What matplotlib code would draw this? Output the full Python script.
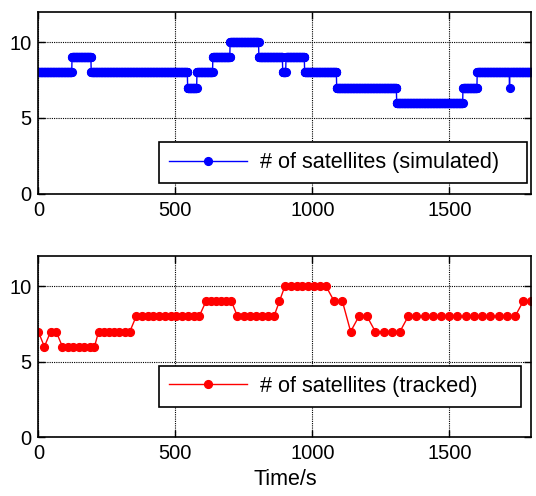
import numpy as np
import matplotlib
matplotlib.use("Agg")
import matplotlib.pyplot as plt

plt.rcParams['font.family'] = ['Liberation Sans', 'DejaVu Sans']

# simulated satellite count: level changes (time in s, new level)
sim_change_t = [0, 123, 193, 545, 579, 637, 700, 805, 892, 904, 972, 1089, 1308, 1550, 1602, 1720, 1721]
sim_level = [8, 9, 8, 7, 8, 9, 10, 9, 8, 9, 8, 7, 6, 7, 8, 7, 8]
sim_end = 1800

# tracked satellite count (sampled)
trk_t = [0, 22, 45, 65,
         88, 108, 128, 148, 168, 188, 205,
         220, 239, 258, 277, 296, 315, 334,
         357, 378, 399, 420, 441, 462, 483, 504, 525, 546, 567, 587,
         612, 631, 649, 668, 686, 705,
         727, 749, 771, 794, 816, 838, 860,
         880,
         900, 921, 943, 964, 986, 1007, 1029, 1050,
         1080, 1110, 1140, 1170, 1200,
         1230, 1260, 1290, 1320,
         1350, 1380, 1410, 1440, 1470, 1500, 1530, 1560, 1590, 1620, 1650, 1680, 1710, 1740,
         1770, 1800]
trk_n = [7, 6, 7, 7,
         6, 6, 6, 6, 6, 6, 6,
         7, 7, 7, 7, 7, 7, 7,
         8, 8, 8, 8, 8, 8, 8, 8, 8, 8, 8, 8,
         9, 9, 9, 9, 9, 9,
         8, 8, 8, 8, 8, 8, 8,
         9,
         10, 10, 10, 10, 10, 10, 10, 10,
         9, 9, 7, 8, 8,
         7, 7, 7, 7,
         8, 8, 8, 8, 8, 8, 8, 8, 8, 8, 8, 8, 8, 8,
         9, 9]

# expand the step record to 1 s samples
durations = np.diff(sim_change_t + [sim_end + 1])
sim_n = np.repeat(sim_level, durations)
sim_t = np.arange(len(sim_n))

fig = plt.figure(figsize=(5.36, 4.96), dpi=100)
ax1 = fig.add_axes([0.0715, 0.609, 0.920, 0.3675])
ax2 = fig.add_axes([0.0715, 0.118, 0.920, 0.366])

ax1.plot(sim_t, sim_n, color=(0, 0, 1), marker='o', markersize=5.6, linewidth=1,
         label='# of satellites (simulated)')
ax2.plot(trk_t, trk_n, color=(1, 0, 0), marker='o', markersize=5.6, linewidth=1,
         label='# of satellites (tracked)')

for ax in (ax1, ax2):
    ax.set_xlim(0, 1800)
    ax.set_ylim(0, 12)
    ax.set_xticks([0, 500, 1000, 1500])
    ax.set_yticks([0, 5, 10])
    ax.grid(True, color='black', linestyle=(0, (1, 1)), linewidth=0.8)
    ax.tick_params(direction='in', top=True, right=True, length=5, width=1,
                   labelsize=14.5, pad=5)
    for s in ax.spines.values():
        s.set_linewidth(1.2)

leg1 = ax1.legend(loc='lower left', bbox_to_anchor=(0.245, 0.06, 0.746, 0.22),
                  mode='expand', borderaxespad=0,
                  fontsize=15.6, fancybox=False, framealpha=1, edgecolor='black',
                  handlelength=3.6, handletextpad=0.6, borderpad=0.45)
leg1.get_frame().set_linewidth(1.2)
leg2 = ax2.legend(loc='lower left', bbox_to_anchor=(0.245, 0.17, 0.733, 0.22),
                  mode='expand', borderaxespad=0,
                  fontsize=15.6, fancybox=False, framealpha=1, edgecolor='black',
                  handlelength=3.6, handletextpad=0.6, borderpad=0.45)
leg2.get_frame().set_linewidth(1.2)

ax2.set_xlabel('Time/s', fontsize=15.5)

fig.savefig('out.png', dpi=100)
